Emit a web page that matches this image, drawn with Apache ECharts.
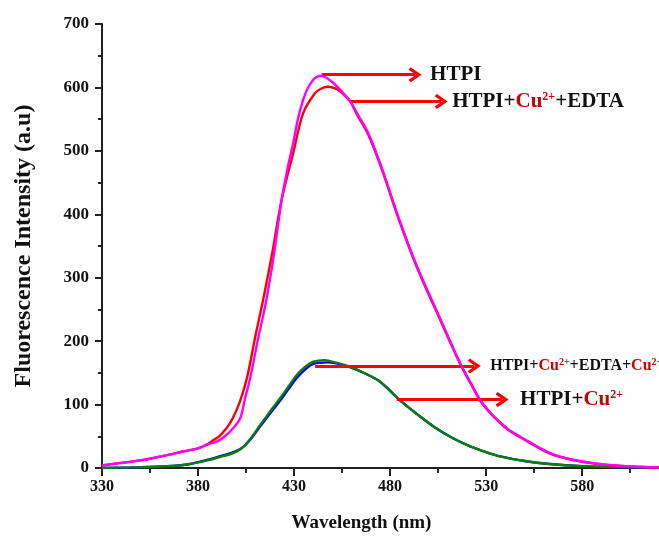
<!DOCTYPE html>
<html>
<head>
<meta charset="utf-8">
<script src="https://cdn.jsdelivr.net/npm/echarts@6/dist/echarts.min.js"></script>
<style>html,body{margin:0;padding:0;background:#fff}#c{width:659px;height:538px}</style>
</head>
<body>
<div id="c"></div>
<script>
// ---- data ----
const xMajorTicks = [330, 380, 430, 480, 530, 580];
const xMinorTicks = [355, 405, 455, 505, 555, 605];

const htpiWl  = [330,340,350,357,365,372,380,386,390,394,398,401.9,404.5,407.1,411,415.4,419.2,423.6,427,429.6,432,434.8,437,440,442,444.4,447,450.5,455,459.2,464,468,472,476.5,485,494,506,516.5,522,527,532,537,542,548,563,576,589,605,620];
const htpiInt = [4,8,12,16,21,26,31,38,42,50,62,78,110,141,200,262,330,424,478,513,550,581,598,612,617,618.5,615,607,593,578,553,532,503,466,390,318,236,165,134,107,88,73,60,49,24,12.6,6.3,2.4,1];

const edtaWl  = [330,340,350,357,365,372,380,384.5,388,391,394.9,398,401.7,405.4,410,414,419,423.6,429.6,434.8,440.9,444,447.3,451,454,459.2,463,467.9,472,476.5,485,494,506,516.5,522,527,532,537,542,548,563,576,589,605,620];
const edtaInt = [4,8,12,16,21,26,31,37,44,50,63,78,104,141,210,267,345,424,497,560,591,598,601,599,594,578,556,530,501,464,388,316,234,164,133,106,87,72,59,48,23,12,6,2.3,1];

const cuWl  = [330,345,363.7,375,386.3,392,398.4,403,407,411,416,422.7,427,431.4,436,440,447,452,459,467,474.8,485,494,502.6,512,521.7,530,537.3,550,563,580,600,620];
const cuInt = [0,1,2.7,6,14,19,25,32,44,60,80,106,124,142,156,164,166.5,165,159,149,136,107,85,65.5,48,34,25,18.4,11,6.3,3,1.5,1];

const cuCuWl  = [330,345,363.7,375,386.3,392,398.4,403,407,411,416,422.7,427,431.4,436,440,446,452,459,467,474.8,485,494,502.6,512,521.7,530,537.3,550,563,580,600,620];
const cuCuInt = [0,1,2.7,6,13,18,23.5,32,45,62,83,110,128,146.5,160,167.5,170,166,160,149,136,107,85,65.5,48,34,25,18.4,11,6.3,3,1.5,1];

// annotation arrows: [startWl, endWl, intensity]
const arrowHTPI    = [444.4, 493.0, 620];
const arrowEDTA    = [459.2, 506.6, 578];
const arrowEDTACu  = [441.0, 523.8, 161];
const arrowCu      = [483.5, 538.3, 108];

// ---- build chart ----
const pairs = (xs, ys) => xs.map((x, i) => [x, ys[i]]);
const FONT = "'Liberation Serif','Times New Roman',serif";
const chev = 'path://M50,0 L100,62 L84,74 L50,32 L16,74 L0,62 Z';

function arrow(a, labelText, dist) {
  return [
    { coord: [a[0], a[2]], symbol: 'none',
      label: { show: true, position: 'end', formatter: labelText, distance: dist } },
    { coord: [a[1], a[2]], symbol: chev, symbolSize: [15, 13] }
  ];
}

const rich = {
  k:  { fontFamily: FONT, fontWeight: 'bold', fontSize: 21, color: '#111' },
  r:  { fontFamily: FONT, fontWeight: 'bold', fontSize: 21, color: '#c80000' },
  s:  { fontFamily: FONT, fontWeight: 'bold', fontSize: 12, color: '#c80000', verticalAlign: 'top' },
  k3: { fontFamily: FONT, fontWeight: 'bold', fontSize: 16, color: '#111' },
  r3: { fontFamily: FONT, fontWeight: 'bold', fontSize: 16, color: '#d00000' },
  s3: { fontFamily: FONT, fontWeight: 'bold', fontSize: 10, color: '#d00000', verticalAlign: 'top' }
};

const chart = echarts.init(document.getElementById('c'), null, { renderer: 'canvas' });
const axisCol = '#222';
const curve = (name, xs, ys, color, z) => ({
  name: name, type: 'line', data: pairs(xs, ys), smooth: 0.35,
  symbol: 'none', lineStyle: { color: color, width: 2.4 }, z: z
});
chart.setOption({
  animation: false,
  backgroundColor: '#fff',
  grid: { left: 102, right: 0, top: 24, bottom: 68, containLabel: false },
  xAxis: [{
    type: 'value', min: 330, max: 620,
    name: 'Wavelength (nm)', nameLocation: 'middle', nameGap: 46,
    nameTextStyle: { fontFamily: FONT, fontWeight: 'bold', fontSize: 19, color: '#111', padding: [0, 38, 0, 0] },
    axisLine: { show: true, onZero: false, lineStyle: { color: axisCol, width: 2 } },
    axisTick: { show: true, length: 8, customValues: xMajorTicks, lineStyle: { color: axisCol, width: 2 } },
    axisLabel: { customValues: xMajorTicks, margin: 11, fontFamily: FONT, fontWeight: 'bold', fontSize: 16, color: '#111' },
    splitLine: { show: false }
  }, {
    type: 'value', min: 330, max: 620, position: 'bottom',
    axisLine: { show: false },
    axisTick: { show: true, length: 5, customValues: xMinorTicks, lineStyle: { color: axisCol, width: 2 } },
    axisLabel: { show: false },
    splitLine: { show: false }
  }],
  yAxis: {
    type: 'value', min: 0, max: 700, interval: 100,
    name: 'Fluorescence Intensity (a.u)', nameLocation: 'middle', nameGap: 66,
    nameTextStyle: { fontFamily: FONT, fontWeight: 'bold', fontSize: 24, color: '#111' },
    axisLine: { show: true, lineStyle: { color: axisCol, width: 2 } },
    axisTick: { show: true, length: 7, lineStyle: { color: axisCol, width: 2 } },
    minorTick: { show: true, splitNumber: 2, length: 4, lineStyle: { color: axisCol, width: 2 } },
    axisLabel: { margin: 13, fontFamily: FONT, fontWeight: 'bold', fontSize: 17, color: '#111' },
    splitLine: { show: false }
  },
  series: [
    curve('HTPI+Cu2+', cuWl, cuInt, '#0000ff', 2),
    curve('HTPI+Cu2++EDTA+Cu2+', cuCuWl, cuCuInt, '#0a7d0a', 3),
    curve('HTPI+Cu2++EDTA', edtaWl, edtaInt, '#ff0000', 4),
    curve('HTPI', htpiWl, htpiInt, '#ff00ff', 5),
    { name: 'annotations', type: 'line', data: [], z: 6,
      markLine: {
        silent: true, animation: false,
        lineStyle: { color: '#ff0000', width: 3, type: 'solid' },
        itemStyle: { color: '#ff0000' },
        label: { rich: rich },
        data: [
          arrow(arrowHTPI, '{k|HTPI}', [15, 0]),
          arrow(arrowEDTA, '{k|HTPI+}{r|Cu}{s|2+}{k|+EDTA}', [11, 0]),
          arrow(arrowEDTACu, '{k3|HTPI+}{r3|Cu}{s3|2+}{k3|+EDTA+}{r3|Cu}{s3|2+}', [16, 3]),
          arrow(arrowCu, '{k|HTPI+}{r|Cu}{s|2+}', [18, 0])
        ]
      }
    }
  ]
});
</script>
</body>
</html>
